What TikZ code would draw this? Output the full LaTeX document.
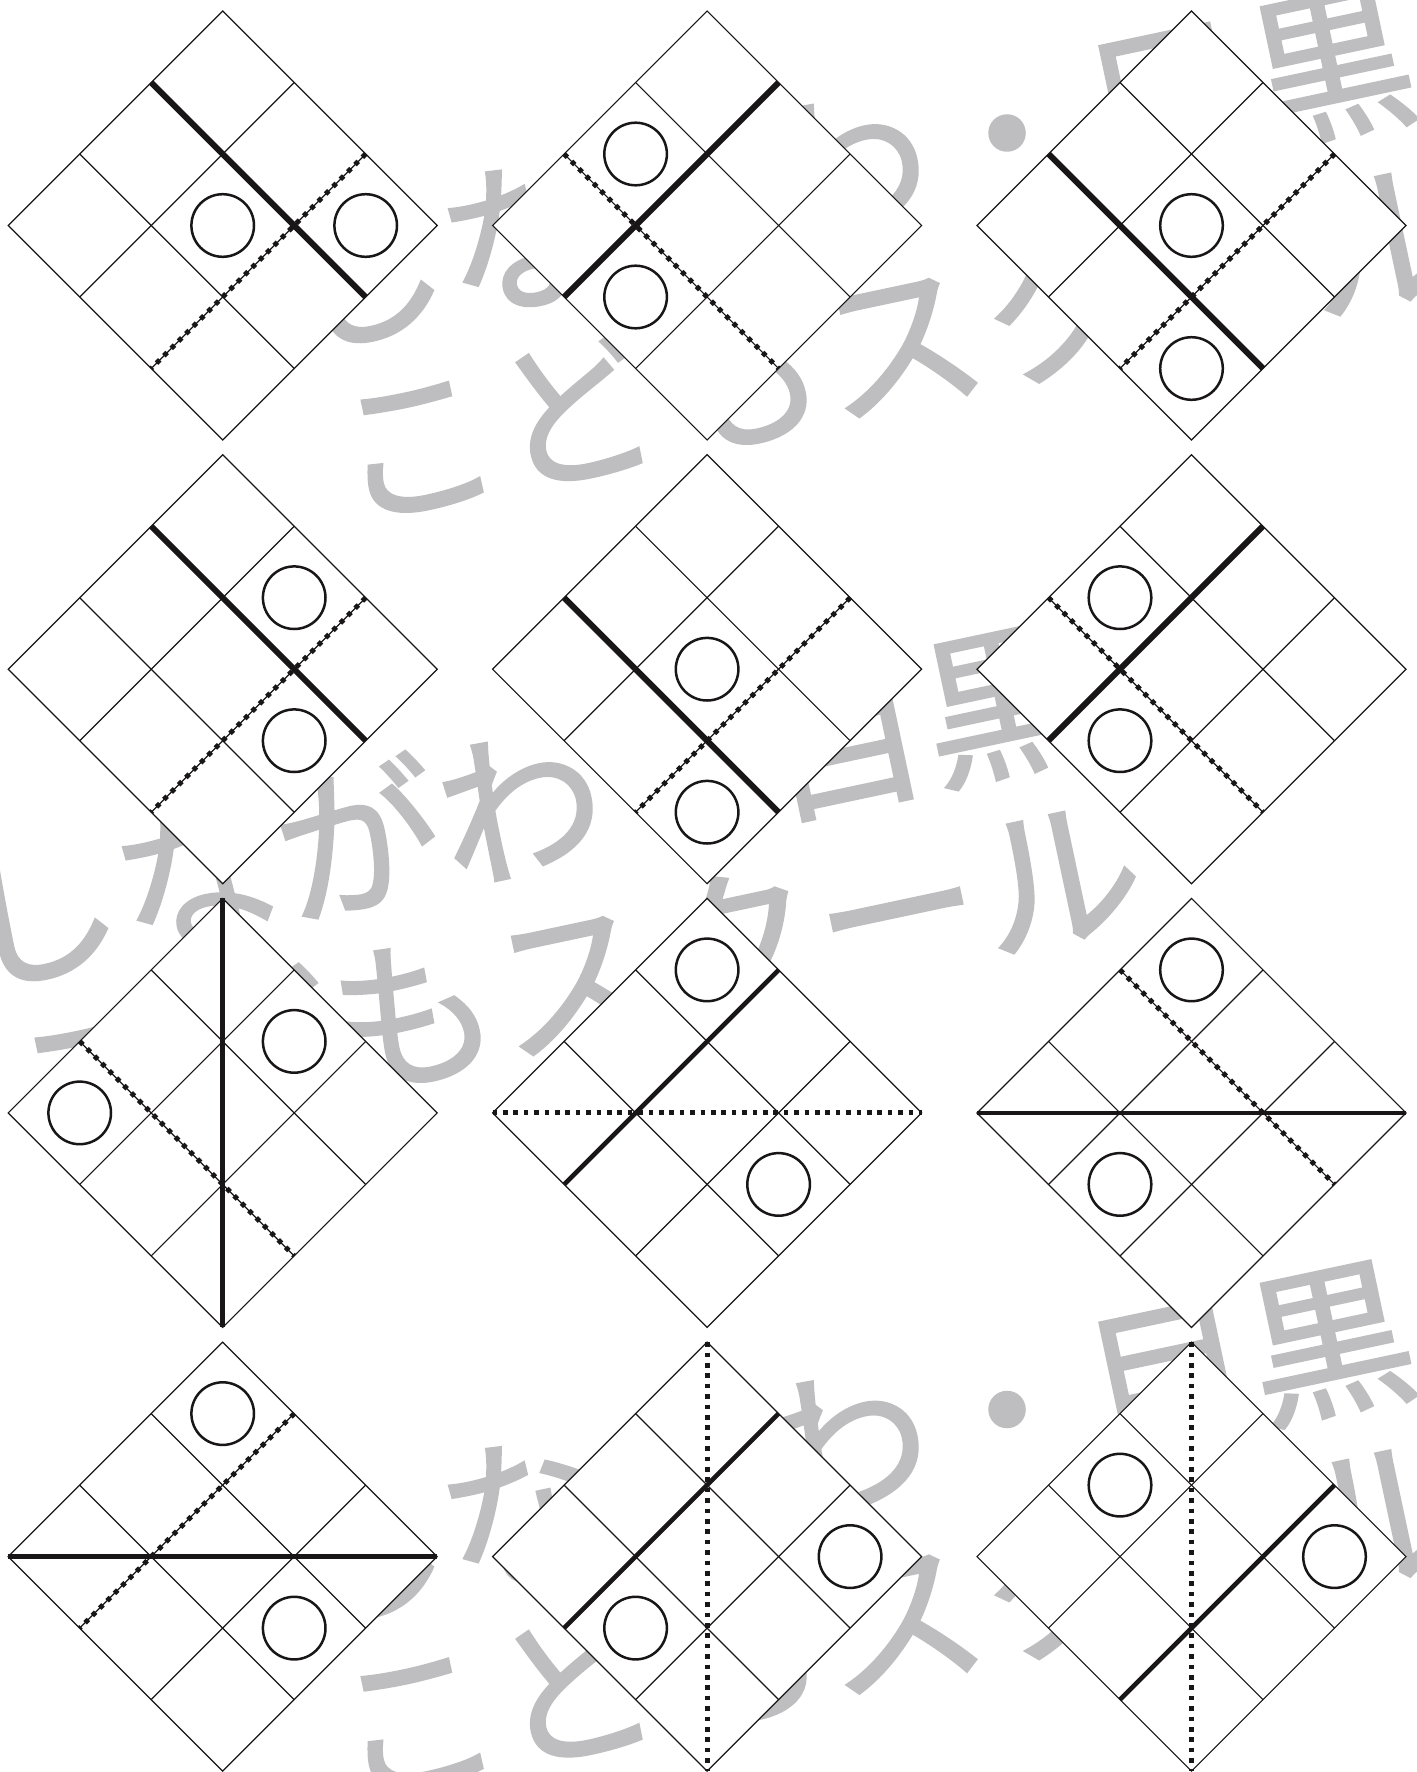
\documentclass[tikz,border=0pt]{standalone}
\usepackage{fontspec}
\newfontfamily\wmfont{Noto Sans CJK JP}[FakeBold=1.5]
\definecolor{ink}{RGB}{25,22,23}
\definecolor{wmgray}{RGB}{190,190,192}
\tikzset{
  gridline/.style={line width=1.2bp, draw=ink},
  foldsolid/.style={line width=6bp, draw=ink},
  foldsolidthin/.style={line width=4.6bp, draw=ink},
  folddot/.style={line width=5bp, draw=ink, dash pattern=on 4.6bp off 5.8bp},
  hole/.style={line width=2.5bp, draw=ink},
  wmtext/.style={anchor=base west, inner sep=0pt, outer sep=0pt, rotate=12, text=wmgray,
    font=\wmfont\fontsize{165bp}{165bp}\selectfont},
}
\newcommand\makediamond[3]{%
  \begin{scope}[shift={(#2,#3)}]
    \foreach \i in {0,...,3}{\foreach \j in {0,...,3}{
      \coordinate (#1-\i\j) at ({71.5*(\i-\j)},{71.5*(\i+\j)});
      \coordinate (#1-c\i\j) at ({71.5*(\i-\j)},{71.5*(\i+\j+1)});
    }}
  \end{scope}
  \fill[white] (#1-00) -- (#1-30) -- (#1-33) -- (#1-03) -- cycle;
  \draw[gridline] (#1-00) -- (#1-30) -- (#1-33) -- (#1-03) -- cycle;
  \foreach \k in {1,2}{
    \draw[gridline] (#1-\k0) -- (#1-\k3);
    \draw[gridline] (#1-0\k) -- (#1-3\k);
  }}
\begin{document}
\begin{tikzpicture}[x=1bp,y=-1bp]
\useasboundingbox (0,0) rectangle (1417,1772);
\clip (0,0) rectangle (1417,1772);
\fill[white] (0,0) rectangle (1417,1772);
% watermark
\foreach \dx/\dy/\n in {0/0/1, -326/638/2, 0/1276.5/3}{
  \node[wmtext] (wmA\n) at ({293.8+\dx},{348.7+\dy}) {しながわ・目黒};
  \node[wmtext] (wmB\n) at ({348+\dx},{522+\dy}) {こどもスクール};
}
% row 1
\makediamond{A}{222.7}{11}
\draw[foldsolid] (A-01) -- (A-31);
\draw[folddot] (A-20) -- (A-23);
\draw[hole] (A-c11) circle[radius=31.3];
\draw[hole] (A-c20) circle[radius=31.3];

\makediamond{B}{707.1}{11}
\draw[foldsolid] (B-10) -- (B-13);
\draw[folddot] (B-02) -- (B-32);
\draw[hole] (B-c01) circle[radius=31.3];
\draw[hole] (B-c12) circle[radius=31.3];

\makediamond{C}{1191.5}{11}
\draw[foldsolid] (C-02) -- (C-32);
\draw[folddot] (C-20) -- (C-23);
\draw[hole] (C-c11) circle[radius=31.3];
\draw[hole] (C-c22) circle[radius=31.3];
% row 2
\makediamond{D}{222.7}{454.7}
\draw[foldsolid] (D-01) -- (D-31);
\draw[folddot] (D-20) -- (D-23);
\draw[hole] (D-c10) circle[radius=31.3];
\draw[hole] (D-c21) circle[radius=31.3];

\makediamond{E}{707.1}{454.7}
\draw[foldsolid] (E-02) -- (E-32);
\draw[folddot] (E-20) -- (E-23);
\draw[hole] (E-c11) circle[radius=31.3];
\draw[hole] (E-c22) circle[radius=31.3];

\makediamond{F}{1191.5}{454.7}
\draw[foldsolid] (F-10) -- (F-13);
\draw[folddot] (F-02) -- (F-32);
\draw[hole] (F-c01) circle[radius=31.3];
\draw[hole] (F-c12) circle[radius=31.3];
% row 3
\makediamond{G}{222.7}{898.4}
\draw[foldsolidthin] (G-00) -- (G-33);
\draw[folddot] (G-02) -- (G-32);
\draw[hole] (G-c10) circle[radius=31.3];
\draw[hole] (G-c02) circle[radius=31.3];

\makediamond{H}{707.1}{898.4}
\draw[foldsolidthin] (H-10) -- (H-13);
\draw[folddot] (H-03) -- (H-30);
\draw[hole] (H-c00) circle[radius=31.3];
\draw[hole] (H-c21) circle[radius=31.3];

\makediamond{I}{1191.5}{898.4}
\draw[foldsolidthin] (I-03) -- (I-30);
\draw[folddot] (I-01) -- (I-31);
\draw[hole] (I-c00) circle[radius=31.3];
\draw[hole] (I-c12) circle[radius=31.3];
% row 4
\makediamond{J}{222.7}{1342.1}
\draw[foldsolidthin] (J-03) -- (J-30);
\draw[folddot] (J-10) -- (J-13);
\draw[hole] (J-c00) circle[radius=31.3];
\draw[hole] (J-c21) circle[radius=31.3];

\makediamond{K}{707.1}{1342.1}
\draw[foldsolidthin] (K-10) -- (K-13);
\draw[folddot] (K-00) -- (K-33);
\draw[hole] (K-c20) circle[radius=31.3];
\draw[hole] (K-c12) circle[radius=31.3];

\makediamond{L}{1191.5}{1342.1}
\draw[folddot] (L-00) -- (L-33);
\draw[foldsolidthin] (L-20) -- (L-23);
\draw[hole] (L-c01) circle[radius=31.3];
\draw[hole] (L-c20) circle[radius=31.3];
\end{tikzpicture}
\end{document}
